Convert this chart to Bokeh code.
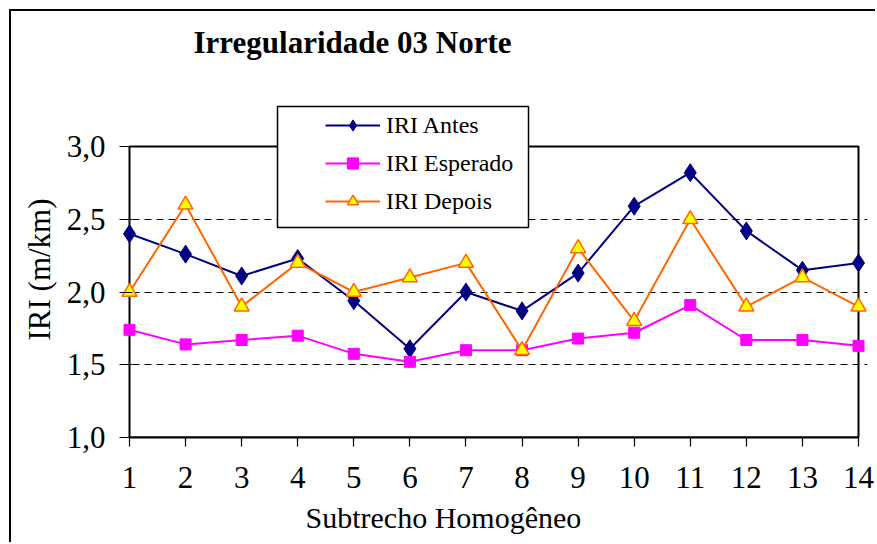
from bokeh.plotting import figure
from bokeh.models import Range1d, FixedTicker, Label, Legend, LegendItem, Title, BoxAnnotation
from bokeh.embed import file_html
from bokeh.resources import INLINE

subtrechos = list(range(1, 15))
iri_antes = [2.40, 2.26, 2.11, 2.23, 1.94, 1.61, 2.00, 1.87, 2.13, 2.59, 2.82, 2.42, 2.15, 2.20]
iri_esperado = [1.74, 1.64, 1.67, 1.70, 1.575, 1.52, 1.60, 1.60, 1.68, 1.72, 1.91, 1.67, 1.67, 1.63]
iri_depois = [2.00, 2.60, 1.90, 2.20, 2.00, 2.10, 2.20, 1.60, 2.30, 1.80, 2.50, 1.90, 2.10, 1.90]
y_ticks = [1.0, 1.5, 2.0, 2.5, 3.0]
y_tick_labels = ["1,0", "1,5", "2,0", "2,5", "3,0"]
grid_values = [1.5, 2.0, 2.5]
X_MIN, X_MAX, Y_MIN, Y_MAX = 1, 14, 1.0, 3.0

FONT = "Liberation Serif"

# layout (canvas px)
W, H = 866, 533
PAD = 9                      # room so edge markers are not clipped
px_x = 729 / (X_MAX - X_MIN)
px_y = 291 / (Y_MAX - Y_MIN)
frame_bottom = 426
x_pad = PAD / px_x

p = figure(width=W, height=H, output_backend="svg", toolbar_location=None,
           x_range=Range1d(X_MIN - x_pad, X_MAX + x_pad),
           y_range=Range1d(Y_MIN, Y_MIN + frame_bottom / px_y),
           min_border_left=109, min_border_right=W - (118 + 729 + PAD),
           min_border_top=0, min_border_bottom=H - frame_bottom)
p.styles = {"border-left": "2px solid black", "border-top": "2px solid black",
            "margin-left": "9px", "margin-top": "9px"}
p.background_fill_color = "white"
p.border_fill_color = "white"
p.outline_line_color = None

p.xgrid.visible = False
p.ygrid.ticker = FixedTicker(ticks=grid_values)
p.ygrid.bounds = (X_MIN, X_MAX)
p.ygrid.grid_line_color = "black"
p.ygrid.grid_line_dash = "7 5"
p.ygrid.grid_line_width = 1

# plot-area box
p.add_layout(BoxAnnotation(left=X_MIN, right=X_MAX, bottom=Y_MIN, top=Y_MAX,
                           fill_alpha=0, line_color="black", line_alpha=1, line_width=2,
                           level="underlay"))

xa = p.xaxis[0]
ya = p.yaxis[0]
ya.ticker = FixedTicker(ticks=y_ticks)
ya.major_label_overrides = {t: l for t, l in zip(y_ticks, y_tick_labels)}
xa.ticker = FixedTicker(ticks=subtrechos)
xa.bounds = (X_MIN, X_MAX)
for ax in (xa, ya):
    ax.major_label_text_font = FONT
    ax.major_label_text_font_size = "31px"
    ax.major_label_text_color = "black"
    ax.major_tick_line_color = "black"
    ax.major_tick_line_width = 1.2
    ax.minor_tick_line_color = None
xa.axis_line_color = "black"
xa.axis_line_width = 2
xa.major_tick_out = 9
xa.major_tick_in = 0
xa.major_label_standoff = 20
ya.axis_line_color = None
ya.major_tick_out = 1
ya.major_tick_in = 12
ya.major_label_standoff = 14

l1 = p.line(subtrechos, iri_antes, line_color="#000080", line_width=2)
m1 = p.scatter(subtrechos, iri_antes, marker="diamond", size=18, fill_color="#000080", line_color="#000080")
l2 = p.line(subtrechos, iri_esperado, line_color="#FF00FF", line_width=2)
m2 = p.scatter(subtrechos, iri_esperado, marker="square", size=11, fill_color="#FF00FF", line_color="#FF00FF")
l3 = p.line(subtrechos, iri_depois, line_color="#FF6600", line_width=2)
m3 = p.scatter(subtrechos, iri_depois, marker="triangle", size=15, fill_color="#FFFF00", line_color="#FF6600", line_width=1.5)

# legend frame
p.add_layout(BoxAnnotation(left=X_MIN + (277 - 129) / px_x, right=X_MIN + (528 - 129) / px_x,
                           top=Y_MAX + (146 - 106) / px_y, bottom=Y_MAX - (227 - 146) / px_y,
                           fill_color="white", fill_alpha=1, line_color="black", line_alpha=1,
                           line_width=1.5, level="annotation"))
legend = Legend(items=[
    LegendItem(label="IRI Antes", renderers=[l1, m1]),
    LegendItem(label="IRI Esperado", renderers=[l2, m2]),
    LegendItem(label="IRI Depois", renderers=[l3, m3]),
], location=(205, 222))
legend.label_text_font = FONT
legend.label_text_font_size = "24px"
legend.label_text_color = "black"
legend.glyph_width = 55
legend.glyph_height = 28
legend.label_height = 28
legend.spacing = 10
legend.padding = 0
legend.margin = 0
legend.border_line_color = None
legend.background_fill_alpha = 0
legend.label_standoff = 6
p.add_layout(legend, "center")

p.add_layout(Label(x=X_MIN + (193 - 129) / px_x, y=Y_MIN + (frame_bottom - 31) / px_y,
                   text="Irregularidade 03 Norte", text_font=FONT,
                   text_font_style="bold", text_font_size="31px", text_baseline="alphabetic",
                   text_color="black"))

p.add_layout(Title(text="Subtrecho Homogêneo", text_font=FONT, text_font_style="normal",
                   text_font_size="30px", text_color="black", align="left",
                   offset=305 - 11 - 109, standoff=16), "below")
p.add_layout(Title(text="IRI (m/km)", text_font=FONT, text_font_style="normal",
                   text_font_size="31px", text_color="black", align="left",
                   offset=frame_bottom - 329, standoff=14), "left")

open("out.html", "w").write(file_html(p, INLINE))
